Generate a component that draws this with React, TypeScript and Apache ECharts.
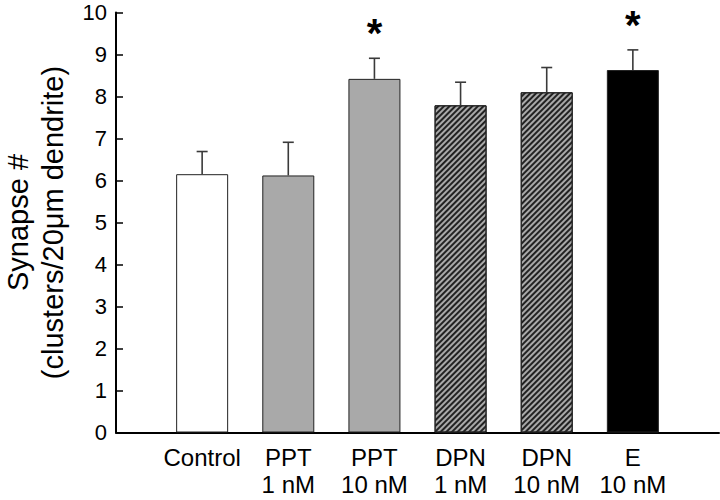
import React, { useEffect, useRef } from "react";
import * as echarts from "echarts";

const categories = ["Control", "PPT\n1 nM", "PPT\n10 nM", "DPN\n1 nM", "DPN\n10 nM", "E\n10 nM"];
const means = [6.15, 6.12, 8.42, 7.79, 8.1, 8.63];
const sems = [0.54, 0.79, 0.49, 0.55, 0.59, 0.48];
const significant = [false, false, true, false, false, true];
const yTicks = [0, 1, 2, 3, 4, 5, 6, 7, 8, 9, 10];

const FONT = "'Liberation Sans', Arial, Helvetica, sans-serif";

const fills = ["#ffffff", "#a9a9a9", "#a9a9a9", "#a9a9a9", "#a9a9a9", "#000000"];
const hatched = [false, false, false, true, true, false];

export default function App() {
  const ref = useRef<HTMLDivElement>(null);
  useEffect(() => {
    if (!ref.current) return;
    const chart = echarts.init(ref.current, undefined, { renderer: "svg" });
    const barData = means.map((v, i) => {
      const item: any = {
        value: [i + 1, v],
        itemStyle: {
          color: fills[i],
          borderColor: "#222",
          borderWidth: 1,
        },
      };
      if (hatched[i]) {
        item.itemStyle.decal = {
          symbol: "rect",
          symbolSize: 1,
          dashArrayX: [1, 0],
          dashArrayY: [1.1, 1.1],
          rotation: -Math.PI / 4,
          color: "#222",
        };
      }
      return item;
    });
    const errData = means.map((v, i) => [i + 1, v, v + sems[i], significant[i] ? 1 : 0]);
    chart.setOption({
      animation: false,
      backgroundColor: "#fff",
      grid: { left: 116, right: 1, top: 12.5, bottom: 67.5, containLabel: false, outerBoundsMode: "none" },
      xAxis: {
        type: "value",
        min: 0,
        max: 7,
        interval: 1,
        splitLine: { show: false },
        axisTick: { show: false },
        axisLine: { show: true, lineStyle: { color: "#000", width: 2 } },
        axisLabel: {
          show: true,
          showMinLabel: false,
          showMaxLabel: false,
          margin: 11,
          color: "#000",
          fontFamily: FONT,
          fontSize: 24,
          lineHeight: 27,
          formatter: (val: number) => categories[val - 1] ?? "",
        },
      },
      yAxis: {
        type: "value",
        min: yTicks[0],
        max: yTicks[yTicks.length - 1],
        interval: 1,
        splitLine: { show: false },
        axisLine: { show: true, lineStyle: { color: "#000", width: 2 } },
        axisTick: { show: true, inside: true, length: 7, lineStyle: { color: "#000", width: 1.5 } },
        axisLabel: { color: "#000", fontFamily: FONT, fontSize: 22, margin: 9 },
        name: "Synapse #\n(clusters/20\u03bcm dendrite)",
        nameLocation: "middle",
        nameRotate: 90,
        nameGap: 46,
        nameTextStyle: { color: "#000", fontFamily: FONT, fontSize: 29, lineHeight: 35 },
      },
      series: [
        {
          type: "bar",
          data: barData,
          barWidth: 52,
          z: 2,
        },
        {
          type: "custom",
          z: 3,
          data: errData,
          renderItem: (params: any, api: any) => {
            const x = api.value(0);
            const lo = api.coord([x, api.value(1)]);
            const hi = api.coord([x, api.value(2)]);
            const cap = 5.5;
            const style = { stroke: "#3a3a3a", lineWidth: 1.6 };
            const children: any[] = [
              { type: "line", shape: { x1: lo[0], y1: lo[1], x2: hi[0], y2: hi[1] }, style },
              { type: "line", shape: { x1: hi[0] - cap, y1: hi[1], x2: hi[0] + cap, y2: hi[1] }, style },
            ];
            if (api.value(3) === 1) {
              children.push({
                type: "text",
                style: {
                  text: "*",
                  x: hi[0],
                  y: hi[1] - 25,
                  align: "center",
                  verticalAlign: "middle",
                  fontFamily: FONT,
                  fontSize: 40,
                  fontWeight: "bold",
                  fill: "#000",
                },
              });
            }
            return { type: "group", children };
          },
        },
      ],
    });
    return () => chart.dispose();
  }, []);
  return (
    <div
      ref={ref}
      style={{ position: "fixed", left: 0, top: 0, width: 720, height: 500, background: "#fff" }}
    />
  );
}
